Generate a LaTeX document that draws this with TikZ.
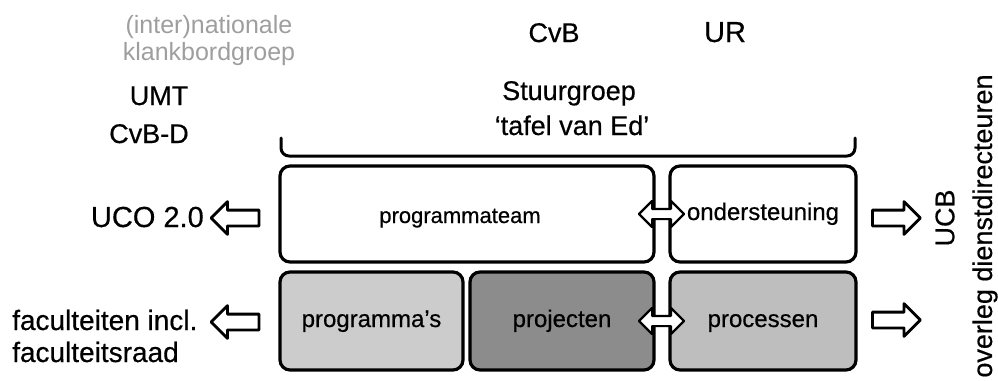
\documentclass[tikz,border=0pt]{standalone}
\usepackage{fontspec}
\setmainfont[FakeBold=0.5]{Liberation Sans}
\newfontfamily\dunfont{Liberation Sans}
\usetikzlibrary{shapes.arrows}
\definecolor{grijstekst}{RGB}{158,158,158}
\definecolor{lichtgrijs}{RGB}{204,204,204}
\definecolor{middengrijs}{RGB}{190,190,190}
\definecolor{donkergrijs}{RGB}{140,140,140}

\begin{document}
\begin{tikzpicture}[line cap=round,line join=round,x=1pt,y=-1pt,
    label/.style={font=\fontsize{27}{30}\selectfont,inner sep=0pt},
    blok/.style={draw,line width=3.2pt,rounded corners=10pt,inner sep=0pt,
        font=\fontsize{24}{28}\selectfont,text height=17pt,text depth=5pt,minimum height=96pt},
    pijl/.style={single arrow,draw,line width=2.8pt,fill=white,inner sep=6.5pt,
        single arrow head extend=8.5pt,minimum height=48pt},
    dubbelpijl/.style={double arrow,draw,line width=2.2pt,fill=white,inner sep=4pt,
        double arrow head extend=8pt,minimum height=45pt}]
        \useasboundingbox (0,0) rectangle (998,380);
        % teksten boven
        \node[label,font=\dunfont\fontsize{25}{28}\selectfont,text=grijstekst,anchor=base] (inter) at (209,33) {(inter)nationale};
        \node[label,font=\dunfont\fontsize{25}{28}\selectfont,text=grijstekst,anchor=base] (klank) at (209,60) {klankbordgroep};
        \node[label,anchor=base] (umt) at (159,105) {UMT};
        \node[label,anchor=base] (cvbd) at (149,143) {CvB-D};
        \node[label,anchor=base] (cvb) at (554,42) {CvB};
        \node[label,font=\fontsize{29}{32}\selectfont,anchor=base] (ur) at (725,42) {UR};
        \node[label,anchor=base] (stuur) at (569,100) {Stuurgroep};
        \node[label,anchor=base] (tafel) at (572,135) {`tafel van Ed'};
        % accolade
        \draw [line width=3pt,rounded corners=8pt] (281,138) -- (281,156) -- (855,156) -- (855,138);
        % blokken
        \node[blok,minimum width=374pt] (team) at (467,214) {};
        \node[font=\fontsize{22}{26}\selectfont,anchor=base] (teamtekst) at (460,223) {programmateam};
        \node[blok,minimum width=186pt] (onder) at (763,214) {ondersteuning};
        \node[blok,minimum width=183pt,minimum height=98pt,fill=lichtgrijs] (progs) at (371.5,321) {programma's};
        \node[blok,minimum width=184pt,minimum height=98pt,fill=donkergrijs] (proj) at (562,321) {projecten};
        \node[blok,minimum width=186pt,minimum height=98pt,fill=middengrijs] (proc) at (763,321) {processen};
        \node[dubbelpijl] (tussenboven) at (661.5,214) {};
        \node[dubbelpijl] (tussenonder) at (661.5,321) {};
        % links
        \node[label,font=\fontsize{29}{32}\selectfont,anchor=base east] (uco) at (204,227) {UCO 2.0};
        \node[label,font=\fontsize{28}{30}\selectfont,anchor=base west] (fac) at (12,330) {faculteiten incl.};
        \node[label,font=\fontsize{28}{30}\selectfont,anchor=base west] (facraad) at (12,362) {faculteitsraad};
        \node[pijl,shape border rotate=180] (pijluco) at (239,218) {};
        \node[pijl,shape border rotate=180] (pijlfac) at (239,322) {};
        % rechts
        \node[pijl] (pijlucb) at (892.5,218) {};
        \node[pijl] (pijloverleg) at (892.5,320) {};
        \node[label,rotate=90] (ucb) at (945,218) {UCB};
        \node[label,rotate=90] (overleg) at (985,226) {overleg dienstdirecteuren};
    \end{tikzpicture}
\end{document}
